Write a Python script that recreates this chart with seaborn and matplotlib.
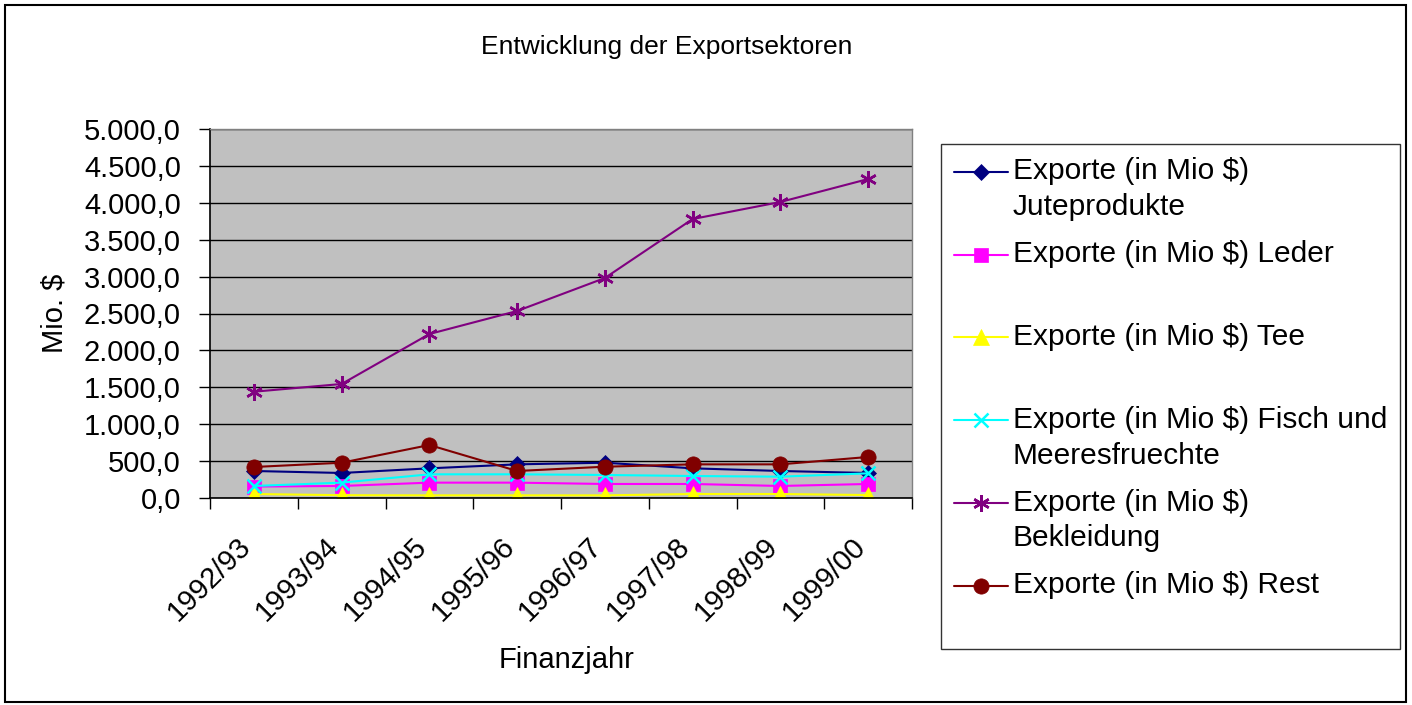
import matplotlib
matplotlib.use("Agg")
import matplotlib.pyplot as plt
import seaborn as sns
import pandas as pd
from matplotlib.ticker import FuncFormatter, FixedLocator
from matplotlib.patches import Rectangle
from matplotlib.transforms import ScaledTranslation

years = ["1992/93", "1993/94", "1994/95", "1995/96", "1996/97", "1997/98", "1998/99", "1999/00"]
jute = [366, 339, 402, 456, 478, 402, 366, 339]
leder = [155, 163, 208, 208, 190, 190, 163, 190]
tee = [54, 38, 36, 36, 36, 54, 54, 40]
fisch = [163, 208, 321, 321, 312, 298, 289, 334]
bekleidung = [1440, 1545, 2222, 2534, 2981, 3780, 4011, 4322]
rest = [420, 478, 718, 366, 424, 456, 456, 556]

series_names = ["Exporte (in Mio $) Juteprodukte", "Exporte (in Mio $) Leder",
                "Exporte (in Mio $) Tee", "Exporte (in Mio $) Fisch und Meeresfruechte",
                "Exporte (in Mio $) Bekleidung", "Exporte (in Mio $) Rest"]
legend_labels = ["Exporte (in Mio $)\nJuteprodukte", "Exporte (in Mio $) Leder\n ",
                 "Exporte (in Mio $) Tee\n ", "Exporte (in Mio $) Fisch und\nMeeresfruechte",
                 "Exporte (in Mio $)\nBekleidung", "Exporte (in Mio $) Rest\n "]
colors = ["#000080", "#FF00FF", "#FFFF00", "#00FFFF", "#800080", "#800000"]
markers = ["D", "s", "^", "x", (6, 2, 0), "o"]
msizes = [8, 10, 11, 10, 12, 11]

values = [jute, leder, tee, fisch, bekleidung, rest]
rows = []
for name, vals in zip(series_names, values):
    for i, v in enumerate(vals):
        rows.append({"idx": i, "Jahr": years[i], "Serie": name, "Wert": v})
df = pd.DataFrame(rows)

sns.set_theme(style="white")
plt.rcParams["font.family"] = ["Liberation Sans", "DejaVu Sans"]
plt.rcParams["text.color"] = "black"
plt.rcParams["axes.labelcolor"] = "black"
plt.rcParams["xtick.color"] = "black"
plt.rcParams["ytick.color"] = "black"

fig = plt.figure(figsize=(14.12, 7.05), dpi=100)
ax = fig.add_axes([210/1412, 1-498/705, (912-210)/1412, (498-129)/705])
ax.set_facecolor("#C0C0C0")

handles = []
for name, c, m, ms in zip(series_names, colors, markers, msizes):
    sub = df[df["Serie"] == name]
    sns.lineplot(data=sub, x="idx", y="Wert", ax=ax, color=c, marker=m,
                 markersize=ms, markeredgecolor=c,
                 markeredgewidth=1.8 if m in ("x", (6, 2, 0)) else 0.5,
                 linewidth=1.5, legend=False, sort=False)
    handles.append(ax.lines[-1])

ax.set_xlim(-0.5, len(years) - 0.5)
ax.set_ylim(0, 5000)
ax.set_yticks(range(0, 5001, 500))
ax.yaxis.set_major_formatter(FuncFormatter(
    lambda v, p: f"{v:,.1f}".replace(",", "X").replace(".", ",").replace("X", ".")))
ax.grid(axis="y", color="black", linewidth=1)
ax.set_axisbelow(True)

ax.set_xticks(range(len(years)))
ax.set_xticklabels(years, rotation=45, ha="right", rotation_mode="anchor")
ax.xaxis.set_minor_locator(FixedLocator([i - 0.5 for i in range(len(years) + 1)]))
ax.tick_params(axis="x", which="major", length=0, pad=14, labelsize=21, labelcolor="black")
ax.tick_params(axis="x", which="minor", length=8, width=1, color="black", direction="out", bottom=True)
ax.tick_params(axis="y", length=8, width=1, color="black", direction="out", left=True,
               labelsize=21, pad=13, labelcolor="black")
offset = ScaledTranslation(-0.17, -0.15, fig.dpi_scale_trans)
for lbl in ax.get_xticklabels():
    lbl.set_transform(lbl.get_transform() + offset)

for s in ["left", "bottom"]:
    ax.spines[s].set_color("black")
    ax.spines[s].set_linewidth(1.2)
for s in ["top", "right"]:
    ax.spines[s].set_color("#808080")
    ax.spines[s].set_linewidth(1)

ax.set_xlabel("Finanzjahr", fontsize=21, color="black")
ax.xaxis.label.set_va("center")
ax.xaxis.set_label_coords((567-210)/702, (498-660)/369)
ax.set_ylabel("Mio. $", fontsize=21, color="black")
ax.yaxis.label.set_va("center")
ax.yaxis.set_label_coords((55-210)/702, 0.5)
fig.text(667/1412, 1-47/705, "Entwicklung der Exportsektoren", ha="center", va="center",
         fontsize=19, color="black")

leg = fig.legend(handles, legend_labels, loc="upper left",
                 bbox_to_anchor=(941/1412, 1-144/705), bbox_transform=fig.transFigure,
                 fontsize=21.5, frameon=True, fancybox=False, shadow=False,
                 labelspacing=0.64, handlelength=1.8, handletextpad=0.15, borderpad=0.45,
                 borderaxespad=0)
leg.get_frame().set_edgecolor("black")
leg.get_frame().set_linewidth(1)
for t in leg.get_texts():
    t.set_linespacing(1.35)
    t.set_color("black")
hoff = ScaledTranslation(0, 0.18, fig.dpi_scale_trans)
for h in leg.legend_handles:
    h.set_transform(h.get_transform() + hoff)

fig.patches.append(Rectangle((5/1412, 3/705), 1401/1412, 697/705, transform=fig.transFigure,
                             fill=False, edgecolor="black", linewidth=1.5))

fig.savefig("out.png", dpi=100)
